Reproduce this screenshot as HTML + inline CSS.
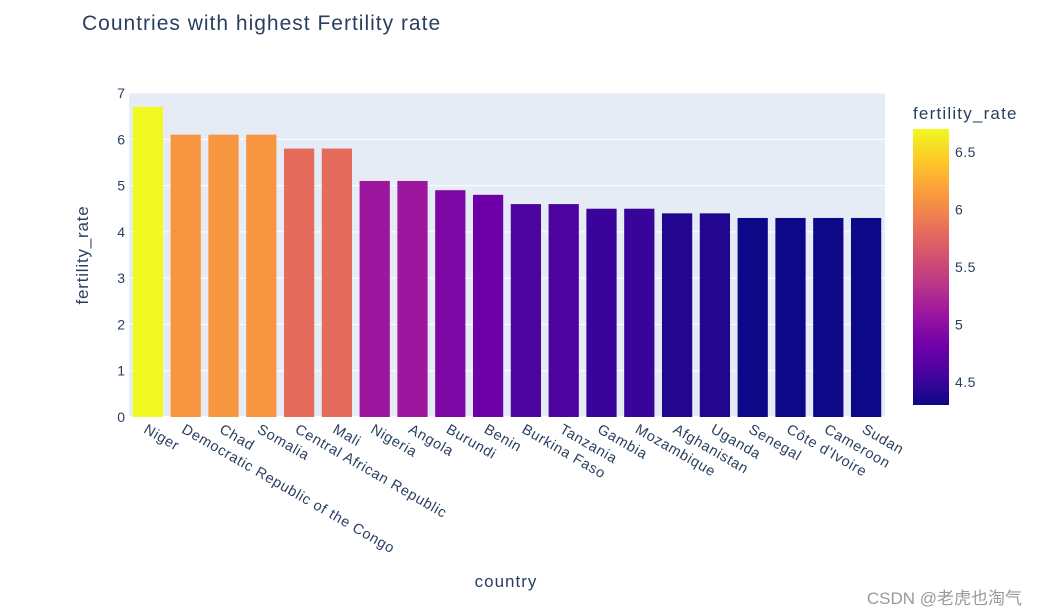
<!DOCTYPE html>
<html><head><meta charset="utf-8">
<style>
html,body{margin:0;padding:0;background:#fff;}
svg{display:block;font-family:"Liberation Sans","Noto Sans CJK SC",sans-serif;}
</style></head>
<body>
<svg id="chart" width="1038" height="616" xmlns="http://www.w3.org/2000/svg">
<defs>
<linearGradient id="plasma" x1="0" y1="1" x2="0" y2="0">
<stop offset="0" stop-color="#0d0887"/><stop offset="0.111" stop-color="#46039f"/><stop offset="0.222" stop-color="#7201a8"/><stop offset="0.333" stop-color="#9c179e"/><stop offset="0.444" stop-color="#bd3786"/><stop offset="0.556" stop-color="#d8576b"/><stop offset="0.667" stop-color="#ed7953"/><stop offset="0.778" stop-color="#fb9f3a"/><stop offset="0.889" stop-color="#fdca26"/><stop offset="1" stop-color="#f0f921"/>
</linearGradient>
</defs>
<text x="82" y="30" font-size="21" letter-spacing="1" fill="#2a3f5f">Countries with highest Fertility rate</text>
<rect x="129" y="93" width="756" height="324" fill="#E5ECF6"/>
<g id="grid"></g><g id="bars"></g><g id="xticks"></g><g id="yticks"></g>
<text transform="translate(88,255) rotate(-90)" text-anchor="middle" font-size="17" letter-spacing="0.8" fill="#2a3f5f">fertility_rate</text>
<text x="506" y="587" text-anchor="middle" font-size="17" letter-spacing="1" fill="#2a3f5f">country</text>
<text x="913" y="119" font-size="17" letter-spacing="1.2" fill="#2a3f5f">fertility_rate</text>
<rect x="913" y="129" width="36" height="276" fill="url(#plasma)"/>
<g id="cbticks"></g>
<text x="1022" y="604" text-anchor="end" font-size="17" fill="#999">CSDN @老虎也淘气</text>
</svg>
<script>
const countries=["Niger","Democratic Republic of the Congo","Chad","Somalia","Central African Republic","Mali","Nigeria","Angola","Burundi","Benin","Burkina Faso","Tanzania","Gambia","Mozambique","Afghanistan","Uganda","Senegal","Côte d'Ivoire","Cameroon","Sudan"];
const rates=[6.7,6.1,6.1,6.1,5.8,5.8,5.1,5.1,4.9,4.8,4.6,4.6,4.5,4.5,4.4,4.4,4.3,4.3,4.3,4.3];
const yTicks=[0,1,2,3,4,5,6,7];
const cbTicks=[4.5,5,5.5,6,6.5];
const NS="http://www.w3.org/2000/svg";
const px0=129,px1=885,py0=417,py1=93,ymax=7;
const cmin=4.3,cmax=6.7,cb0=405,cb1=129;
const stops=[[0,"#0d0887"],[0.111,"#46039f"],[0.222,"#7201a8"],[0.333,"#9c179e"],[0.444,"#bd3786"],[0.556,"#d8576b"],[0.667,"#ed7953"],[0.778,"#fb9f3a"],[0.889,"#fdca26"],[1,"#f0f921"]];
function y(v){return py0-(v/ymax)*(py0-py1);}
const band=(px1-px0)/countries.length;
function xc(i){return px0+band*(i+0.5);}
function cbY(v){return cb0-(v-cmin)/(cmax-cmin)*(cb0-cb1);}
function hex(h){return [1,3,5].map(k=>parseInt(h.substr(k,2),16));}
function color(v){let t=Math.max(0,Math.min(1,(v-cmin)/(cmax-cmin)));
for(let k=1;k<stops.length;k++){if(t<=stops[k][0]){const a=stops[k-1],b=stops[k];const f=(t-a[0])/(b[0]-a[0]);const ca=hex(a[1]),cbb=hex(b[1]);return "rgb("+ca.map((c,j)=>Math.round(c+(cbb[j]-c)*f)).join(",")+")";}}return stops[9][1];}
function mk(tag,attrs,parent,txt){const e=document.createElementNS(NS,tag);for(const k in attrs)e.setAttribute(k,attrs[k]);if(txt!==undefined)e.textContent=txt;document.getElementById(parent).appendChild(e);return e;}
yTicks.forEach(t=>{
 const l=mk("line",{x1:px0,x2:px1,y1:y(t),y2:y(t),stroke:"#fff","stroke-width":t===0?2:1},"grid");
 
 
 const tx=mk("text",{x:px0-4,y:y(t)+5,"text-anchor":"end","font-size":14,fill:"#2a3f5f"},"yticks",String(t));
 
 
});
countries.forEach((c,i)=>{
 const w=band*0.8;
 const r=mk("rect",{x:xc(i)-w/2,y:y(rates[i]),width:w,height:py0-y(rates[i]),fill:color(rates[i])},"bars");
 
 
 const t=mk("text",{transform:"translate("+(xc(i)-5)+","+(py0+15)+") rotate(30)","font-size":14.5,"letter-spacing":0.7,fill:"#2a3f5f"},"xticks",c);
 
 
});
cbTicks.forEach(t=>{
 const tx=mk("text",{x:955,y:cbY(t)+5,"font-size":14,"letter-spacing":0.5,fill:"#2a3f5f"},"cbticks",String(t));
 
 
});
</script>
</body></html>
